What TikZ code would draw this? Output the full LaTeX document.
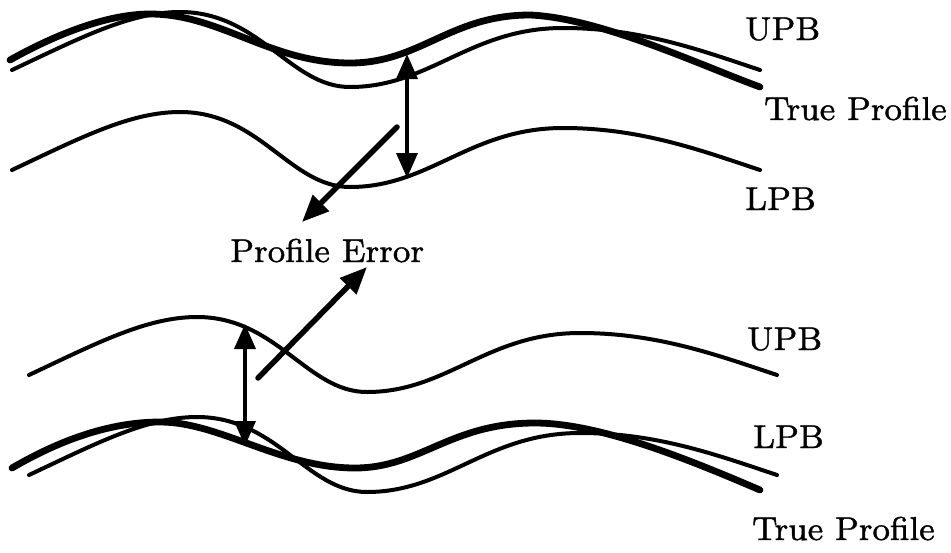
\documentclass[tikz,border=0pt]{standalone}
\usepackage{fontspec}
\IfFontExistsTF{lmroman8-regular.otf}
  {\newfontfamily\lblfont{lmroman8-regular.otf}[FakeBold=1.2]}
  {\newfontfamily\lblfont{Liberation Serif}}
\usetikzlibrary{arrows.meta}
\begin{document}
\begin{tikzpicture}[x=1pt,y=-1pt,
  thinc/.style={line width=4pt,line cap=round},
  thickc/.style={line width=6.8pt,line cap=round},
  bound/.style={insert path={(12,170) .. controls (80,138) and (130,112) .. (180,112)
     .. controls (260,112) and (290,187) .. (350,187)
     .. controls (430,187) and (470,128) .. (563,128)
     .. controls (640,128) and (700,150) .. (760,170)}},
  vdim/.style={line width=3.6pt,{Triangle[length=25pt,width=21pt]}-{Triangle[length=25pt,width=21pt]}},
  diag/.style={line width=5.5pt,line cap=round,-{Triangle[length=27pt,width=22pt]}},
  lbl/.style={inner sep=0pt,anchor=base west,font=\lblfont\fontsize{33}{38}\selectfont}]
\useasboundingbox (0,0) rectangle (951,552);
% ---- top group ----
\begin{scope}[shift={(0,-100)}]
  \draw[thinc,bound];   % UPB
\end{scope}
\draw[thinc,bound];     % LPB
\draw[thickc] (10,60) .. controls (60,32) and (110,14) .. (150,14)
  .. controls (220,14) and (270,63) .. (350,63)
  .. controls (420,63) and (450,15) .. (530,15)
  .. controls (600,18) and (700,65) .. (760,87);   % true profile
% ---- bottom group ----
\begin{scope}[shift={(17,205)}]
  \draw[thinc,bound];   % UPB
\end{scope}
\begin{scope}[shift={(17,305)}]
  \draw[thinc,bound];   % LPB
\end{scope}
\draw[thickc] (12,468) .. controls (60,440) and (110,422) .. (160,422)
  .. controls (220,422) and (280,468) .. (355,468)
  .. controls (420,468) and (450,423) .. (535,423)
  .. controls (600,423) and (690,460) .. (760,490);  % true profile
% ---- arrows ----
\coordinate (t1) at (407,54);
\coordinate (b1) at (407,178);
\coordinate (d1s) at (397,127);
\coordinate (d1e) at (302,222);
\coordinate (t2) at (245,324);
\coordinate (b2) at (245,446);
\coordinate (d2s) at (258,378);
\coordinate (d2e) at (367,267);
\draw[vdim] (t1) -- (b1);
\draw[vdim] (t2) -- (b2);
\draw[diag] (d1s) -- (d1e);
\draw[diag] (d2s) -- (d2e);
% ---- labels ----
\node[lbl] (u1) at (745,40) {UPB};
\node[lbl] (tp1) at (764,120) {True Profile};
\node[lbl] (l1) at (745,210) {LPB};
\node[lbl] (pe) at (230,262) {Profile Error};
\node[lbl] (u2) at (747,350) {UPB};
\node[lbl] (l2) at (753,448) {LPB};
\node[lbl] (tp2) at (752,540) {True Profile};
\end{tikzpicture}
\end{document}
